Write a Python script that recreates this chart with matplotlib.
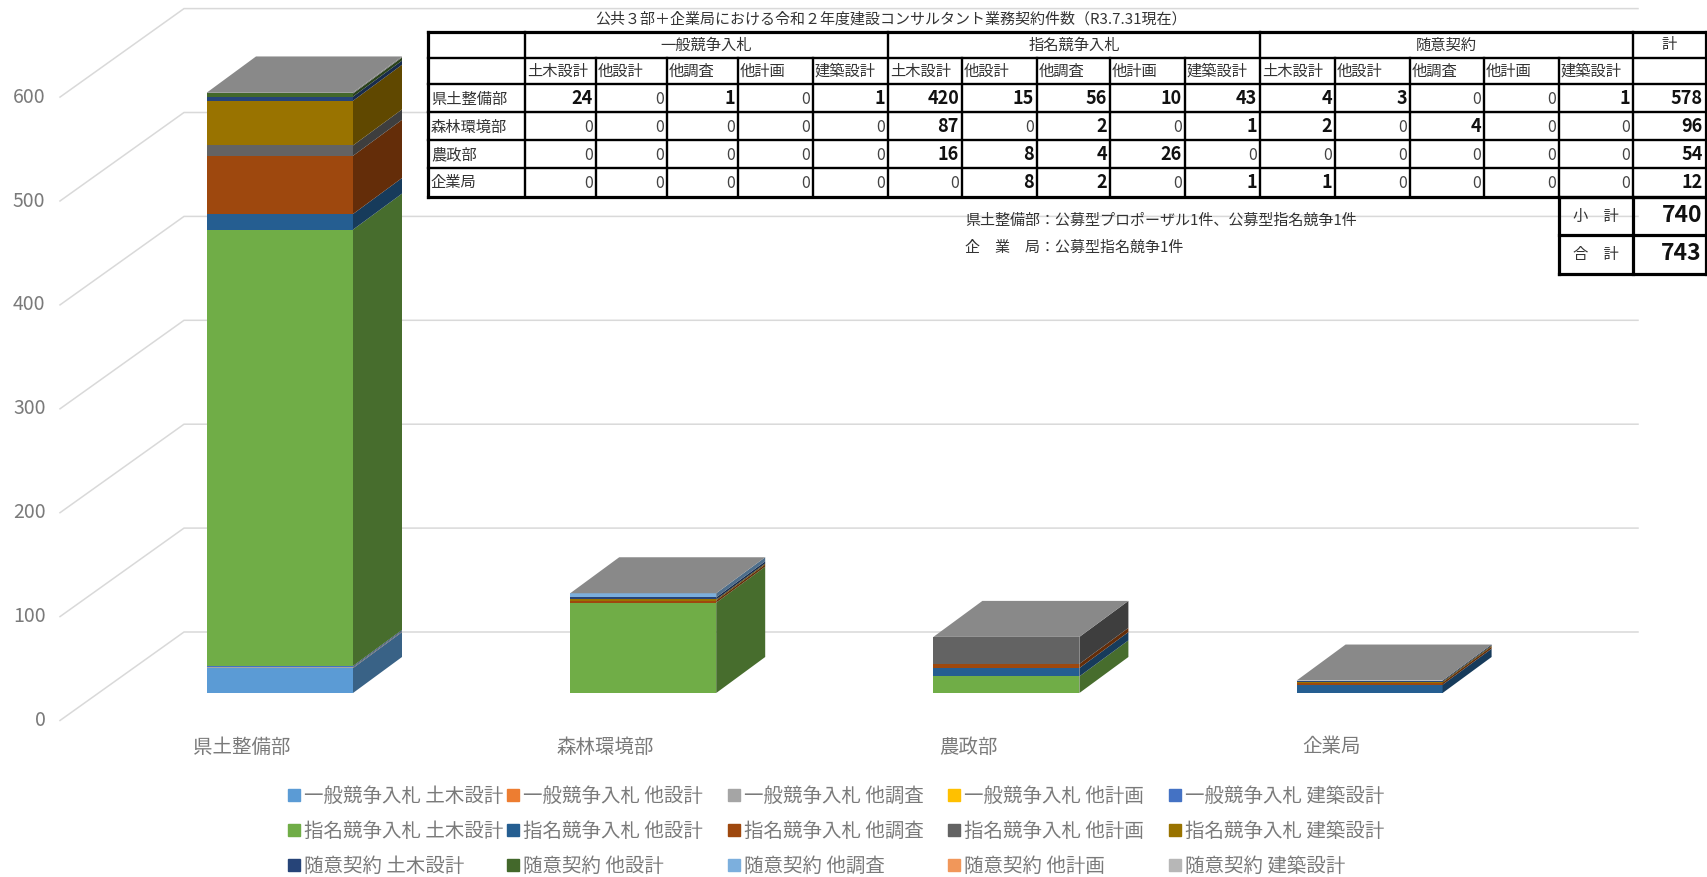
import matplotlib
matplotlib.use('Agg')
import matplotlib.pyplot as plt
from matplotlib.patches import Patch

plt.rcParams['font.family'] = ['Noto Sans CJK JP', 'DejaVu Sans']

depts = ['県土整備部', '森林環境部', '農政部', '企業局']
methods = ['一般競争入札', '指名競争入札', '随意契約']
kinds = ['土木設計', '他設計', '他調査', '他計画', '建築設計']
colors = ['#5B9BD5', '#ED7D31', '#A5A5A5', '#FFC000', '#4472C4',
          '#70AD47', '#255E91', '#9E480E', '#636363', '#997300',
          '#264478', '#43682B', '#7CAFDD', '#F1975A', '#B7B7B7']

kendo = [24, 0, 1, 0, 1, 420, 15, 56, 10, 43, 4, 3, 0, 0, 1]
shinrin = [0, 0, 0, 0, 0, 87, 0, 2, 0, 1, 2, 0, 4, 0, 0]
nosei = [0, 0, 0, 0, 0, 16, 8, 4, 26, 0, 0, 0, 0, 0, 0]
kigyo = [0, 0, 0, 0, 0, 0, 8, 2, 0, 1, 1, 0, 0, 0, 0]
dept_values = [kendo, shinrin, nosei, kigyo]
dept_totals = [578, 96, 54, 12]
yticks = [0, 100, 200, 300, 400, 500, 600]

title = '公共３部＋企業局における令和２年度建設コンサルタント業務契約件数（R3.7.31現在）'
note1 = '県土整備部：公募型プロポーザル1件、公募型指名競争1件'
note2 = '企　業　局：公募型指名競争1件'
subtotal = 740
total = 743

W, H = 1708, 877
GRAY = '#7a7a7a'
INK = '#333333'

# chart scale: one category = 363.2 px, one contract = 1.039 px
XS = 363.2
YS = 1.039
X0 = 280.0
Y0 = 693.0


def px(x):
    return (x - X0) / XS


def shade(col, f):
    r, g, b = matplotlib.colors.to_rgb(col)
    return (r * f, g * f, b * f)


fig = plt.figure(figsize=(W / 100, H / 100), dpi=100)
ax = fig.add_axes([0, 0, 1, 1])
ax.set_xlim(px(0), px(W))
ax.set_ylim((Y0 - H) / YS, Y0 / YS)
ax.axis('off')

# floor and back wall gridlines, the front edge sits 27 px under the bar floor
front = -27.5 / YS
back = 61 / YS
for v in yticks:
    ax.plot([px(60), px(184), px(1638)], [v + front, v + back, v + back],
            color='#d9d9d9', lw=1.1, zorder=1, solid_joinstyle='miter')
    ax.text(px(45.5), v + front, str(v), ha='right', va='center',
            fontsize=14, color=GRAY)

width = 146 / XS
dx = 49 / XS
dy = 36 / YS
for c, values in enumerate(dept_values):
    bottom = 0
    x1 = c + width / 2
    for i, val in enumerate(values):
        if val == 0:
            continue
        ax.bar(c, val, width=width, bottom=bottom, color=colors[i], zorder=3)
        ax.fill([x1, x1 + dx, x1 + dx, x1],
                [bottom, bottom + dy, bottom + val + dy, bottom + val],
                color=shade(colors[i], 0.63), lw=0, zorder=3)
        bottom += val
    x0 = c - width / 2
    ax.fill([x0, x1, x1 + dx, x0 + dx],
            [bottom, bottom, bottom + dy, bottom + dy],
            color=shade(colors[14], 0.75), lw=0, zorder=3)
    ax.text(c - 38 / XS, (Y0 - 747) / YS, depts[c], ha='center', va='center',
            fontsize=14, color=GRAY)

# one legend per column so the columns keep even spacing
col_x = [288, 507, 728, 948, 1169]
for j in range(5):
    handles = []
    for m in range(3):
        idx = m * 5 + j
        handles.append(Patch(color=colors[idx], label=methods[m] + ' ' + kinds[j]))
    fig.legend(handles=handles, loc='upper left',
               bbox_to_anchor=(col_x[j] / W, 1 - 786 / H),
               frameon=False, fontsize=14, labelcolor=GRAY,
               handlelength=0.6, handleheight=0.6, handletextpad=0.2,
               labelspacing=0.72, borderpad=0, borderaxespad=0)

# table in pixel coordinates
tb = fig.add_axes([0, 0, 1, 1])
tb.set_xlim(0, W)
tb.set_ylim(H, 0)
tb.axis('off')
tb.patch.set_alpha(0)

xs = [428, 525, 596, 667, 738, 813, 888, 962, 1037, 1110, 1185, 1260,
      1335, 1410, 1484, 1559, 1633, 1706]
ys = [32, 58, 84, 112, 140, 168, 197]
lw_in = 1.7
lw_out = 2.3

for y in ys:
    lw = lw_out if y in (ys[0], ys[-1]) else lw_in
    tb.plot([xs[0], xs[-1]], [y, y], color='k', lw=lw, solid_capstyle='projecting')
for i, x in enumerate(xs):
    lw = lw_out if i in (0, len(xs) - 1) else lw_in
    top = ys[0] if i in (0, 1, 6, 11, 16, 17) else ys[1]
    tb.plot([x, x], [top, ys[-1]], color='k', lw=lw, solid_capstyle='projecting')

# 小計 / 合計 box
for y in (197, 235, 274):
    tb.plot([1559, 1706], [y, y], color='k', lw=lw_out, solid_capstyle='projecting')
for x in (1559, 1633, 1706):
    tb.plot([x, x], [197, 274], color='k', lw=lw_out, solid_capstyle='projecting')

tb.text(891, 19, title, ha='center', va='center', fontsize=10.8, color=INK)
for g, name in enumerate(methods):
    tb.text((xs[1 + g * 5] + xs[6 + g * 5]) / 2, 45, name, ha='center', va='center',
            fontsize=11, color=INK)
tb.text((xs[16] + xs[17]) / 2, 45, '計', ha='center', va='center', fontsize=11, color=INK)

for g in range(3):
    for k, name in enumerate(kinds):
        tb.text(xs[1 + g * 5 + k] + 2, 71.5, name, ha='left', va='center',
                fontsize=11, color=INK)

row_y = [99, 127, 155, 183]
for r, name in enumerate(depts):
    tb.text(431, row_y[r], name, ha='left', va='center', fontsize=11, color=INK)
    for i, val in enumerate(dept_values[r]):
        if val == 0:
            tb.text(xs[i + 2] - 3, row_y[r], '0', ha='right', va='center',
                    fontsize=11.5, color='#444444')
        else:
            tb.text(xs[i + 2] - 3, row_y[r], str(val), ha='right', va='center',
                    fontsize=13, fontweight='bold', color='#111111')
    tb.text(xs[17] - 3, row_y[r], str(dept_totals[r]), ha='right', va='center',
            fontsize=13, fontweight='bold', color='#111111')

tb.text(965, 221, note1, ha='left', va='center', fontsize=10.8, color=INK)
tb.text(965, 248, note2, ha='left', va='center', fontsize=10.8, color=INK)
tb.text(1596, 216, '小　計', ha='center', va='center', fontsize=11, color=INK)
tb.text(1596, 254, '合　計', ha='center', va='center', fontsize=11, color=INK)
tb.text(1702, 216, str(subtotal), ha='right', va='center', fontsize=16.5,
        fontweight='bold', color='#111111')
tb.text(1702, 254, str(total), ha='right', va='center', fontsize=16.5,
        fontweight='bold', color='#111111')

fig.savefig('out.png', dpi=100)
